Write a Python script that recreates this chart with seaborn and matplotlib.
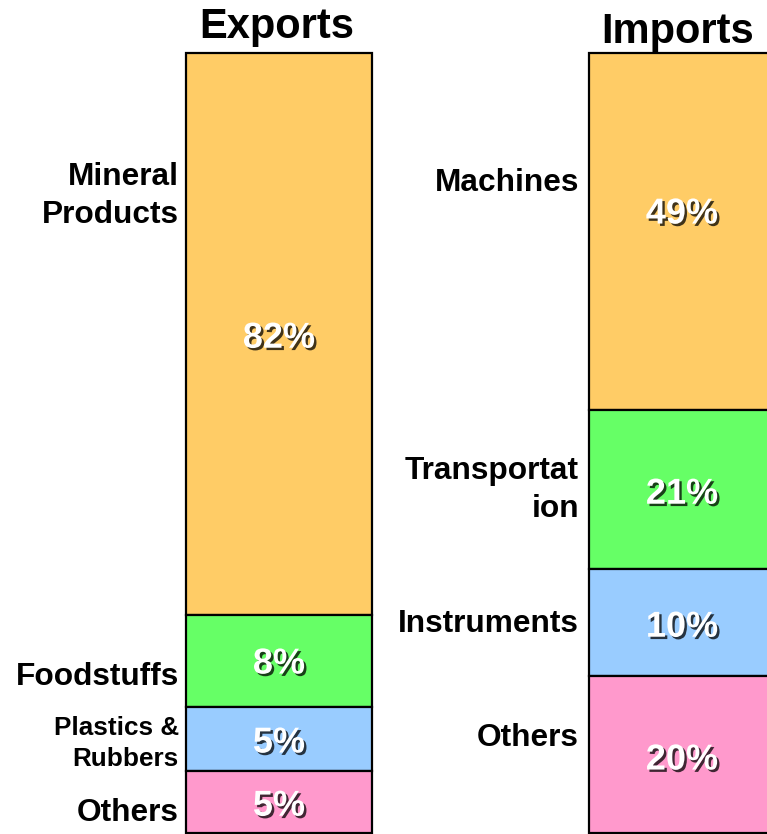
import matplotlib
matplotlib.use("Agg")
import matplotlib.pyplot as plt
import matplotlib.patheffects as pe
import numpy as np
import pandas as pd
import seaborn as sns

# ---------------- data (segments listed top to bottom) ----------------
columns = ["Exports", "Imports"]
export_categories = ["Mineral\nProducts", "Foodstuffs", "Plastics &\nRubbers", "Others"]
import_categories = ["Machines", "Transportat\nion", "Instruments", "Others"]
export_pct_labels = ["82%", "8%", "5%", "5%"]
import_pct_labels = ["49%", "21%", "10%", "20%"]
# drawn segment heights (share of the column)
export_heights = [72.0, 11.8, 8.2, 8.0]
import_heights = [45.8, 20.4, 13.7, 20.1]
segment_colors = ["#FFCC66", "#66FF66", "#99CCFF", "#FF99CC"]

# ---------------- layout / style ----------------
PX_W, PX_H = 767, 834
BAR_TOP_PX = 53
unit_px = (PX_H - BAR_TOP_PX - 1) / 100.0
bar_center0_px, bar_spacing_px, bar_w_px = 279.0, 403.0, 186.0
bar_w = bar_w_px / bar_spacing_px

# vertical label offsets (pixels, positive = downwards) relative to segment centre
export_cat_off = [-141, 13, 2, 8]
import_cat_off = [-52, -3, -2, -20]
export_pct_off = [1, 0, 1, 1]
import_pct_off = [-21, 1, 1, 2]
cat_gap_px = [7, 10]
title_gap_px = [15, 10]
title_dx_px = [-2, -4]

sns.set_theme(style="white")
plt.rcParams["font.family"] = ["Liberation Sans", "DejaVu Sans"]
plt.rcParams["font.weight"] = "bold"

fig = plt.figure(figsize=(PX_W / 100, PX_H / 100), dpi=100)
ax = fig.add_axes([0, 0, 1, 1])

heights = [export_heights, import_heights]
for i in range(4):
    bottoms = [sum(export_heights[i + 1:]), sum(import_heights[i + 1:])]
    df = pd.DataFrame({"column": columns,
                       "height": [export_heights[i], import_heights[i]]})
    sns.barplot(data=df, x="column", y="height", bottom=bottoms,
                color=segment_colors[i], saturation=1, edgecolor="black",
                linewidth=1.6, width=bar_w, errorbar=None, ax=ax)

ylo = -1.0 / unit_px
ax.set_ylim(ylo, ylo + PX_H / unit_px)
ax.set_xlim(-bar_center0_px / bar_spacing_px, (PX_W - bar_center0_px) / bar_spacing_px)
ax.axis("off")

shadow = [pe.SimplePatchShadow(offset=(1.7, -1.7), shadow_rgbFace="black", alpha=0.75),
          pe.Normal()]

pct_fs = 26
cap_px = 0.716 * pct_fs * 100 / 72

cats = [export_categories, import_categories]
pcts = [export_pct_labels, import_pct_labels]
cat_offs = [export_cat_off, import_cat_off]
pct_offs = [export_pct_off, import_pct_off]

for c in range(2):
    h = heights[c]
    for i in range(4):
        bottom = sum(h[i + 1:])
        center = bottom + h[i] / 2
        # category label
        small = "Plastics" in cats[c][i]
        fs = 18.8 if small else 22.8
        ax.annotate(cats[c][i], xy=(c - bar_w / 2, center),
                    xytext=(-cat_gap_px[c], -cat_offs[c][i] - 3), textcoords="offset pixels",
                    ha="right", va="center", fontsize=fs, fontweight="bold",
                    color="black", linespacing=1.38 if small else 1.33)
        # percentage label
        ax.annotate(pcts[c][i], xy=(c, center),
                    xytext=(0, -pct_offs[c][i] - cap_px / 2), textcoords="offset pixels",
                    ha="center", va="baseline", fontsize=pct_fs, fontweight="bold",
                    color="white", path_effects=shadow)
    ax.annotate(columns[c], xy=(c, 100), xytext=(title_dx_px[c], title_gap_px[c]),
                textcoords="offset pixels", ha="center", va="baseline",
                fontsize=30, fontweight="bold", color="black")

fig.savefig("out.png", dpi=100)
